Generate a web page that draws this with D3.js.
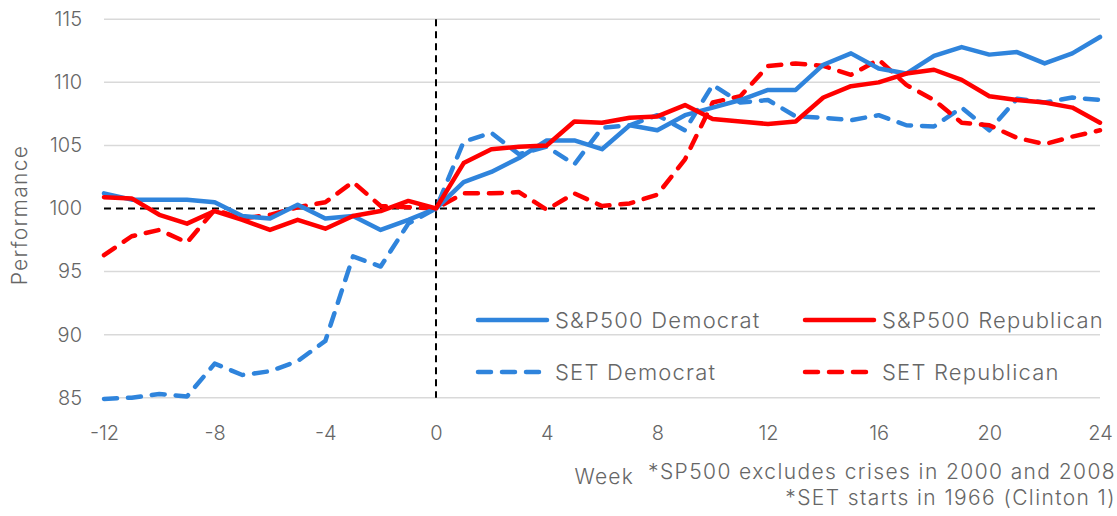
<!DOCTYPE html>
<html>
<head>
<meta charset="utf-8">
<script src="https://cdn.jsdelivr.net/npm/d3@7"></script>
<style>
  body { margin: 0; background: #fff; }
  text { font-family: Inter, "Open Sans", sans-serif; font-weight: 300; fill: #666; }
</style>
</head>
<body>
<script>
let width = 1117
let height = 516
let margin = {top: 19.3, right: 17, bottom: 118.3, left: 104}

let weeks = d3.range(-12, 25)
let yTicks = [85, 90, 95, 100, 105, 110, 115]
let xTicks = [-12, -8, -4, 0, 4, 8, 12, 16, 20, 24]

// values, weeks -12 .. 24
let spDem = [101.2, 100.7, 100.7, 100.7, 100.5, 99.4, 99.2, 100.3, 99.2, 99.4, 98.3, 99.1, 100.0,
  102.1, 102.9, 104.0, 105.4, 105.4, 104.7, 106.6, 106.2, 107.4, 108.0, 108.6, 109.4,
  109.4, 111.4, 112.3, 111.1, 110.7, 112.1, 112.8, 112.2, 112.4, 111.5, 112.3, 113.6]
let spRep = [100.9, 100.8, 99.5, 98.8, 99.8, 99.1, 98.3, 99.1, 98.4, 99.4, 99.8, 100.6, 100.0,
  103.6, 104.7, 104.9, 105.0, 106.9, 106.8, 107.2, 107.3, 108.2, 107.1, 106.9, 106.7,
  106.9, 108.8, 109.7, 110.0, 110.7, 111.0, 110.2, 108.9, 108.6, 108.4, 108.0, 106.8]
let setDem = [84.9, 85.0, 85.3, 85.1, 87.7, 86.8, 87.1, 87.9, 89.5, 96.2, 95.4, 98.8, 100.0,
  105.3, 106.0, 104.3, 104.9, 103.5, 106.4, 106.6, 107.4, 106.2, 109.8, 108.4, 108.6,
  107.3, 107.2, 107.0, 107.4, 106.6, 106.5, 108.0, 106.2, 108.7, 108.4, 108.8, 108.6]
let setRep = [96.3, 97.8, 98.3, 97.3, 99.9, 99.2, 99.5, 100.1, 100.5, 102.1, 100.2, 100.1, 100.0,
  101.2, 101.2, 101.3, 99.9, 101.2, 100.2, 100.4, 101.1, 103.9, 108.4, 108.9, 111.3,
  111.5, 111.3, 110.6, 111.8, 109.8, 108.6, 106.8, 106.6, 105.6, 105.1, 105.7, 106.2]

let seriesNames = ['S&P500 Democrat', 'S&P500 Republican', 'SET Democrat', 'SET Republican']
let seriesValues = [spDem, spRep, setDem, setRep]
let seriesColors = ['#2f84dc', '#ff0000', '#2f84dc', '#ff0000']
let seriesDashed = [false, false, true, true]

let x = d3.scaleLinear().domain([-12, 24]).range([margin.left, width - margin.right])
let y = d3.scaleLinear().domain([85, 115]).range([height - margin.bottom, margin.top])

let svg = d3.select('body').append('svg')
    .attr('width', width)
    .attr('height', height)

// gridlines
svg.append('g')
    .selectAll('line')
    .data(yTicks.filter(d => d != 100))
    .enter().append('line')
    .attr('x1', x(-12))
    .attr('x2', x(24))
    .attr('y1', d => y(d))
    .attr('y2', d => y(d))
    .attr('stroke', '#d9d9d9')
    .attr('stroke-width', 1.5)

// reference lines
svg.append('line')
    .attr('x1', x(-12)).attr('x2', x(24))
    .attr('y1', y(100)).attr('y2', y(100))
    .attr('stroke', '#000').attr('stroke-width', 2)
    .attr('stroke-dasharray', '7,5')

svg.append('line')
    .attr('x1', x(0)).attr('x2', x(0))
    .attr('y1', y(115)).attr('y2', y(85))
    .attr('stroke', '#000').attr('stroke-width', 2)
    .attr('stroke-dasharray', '7,5')

// y axis labels
let yAxis = d3.axisLeft(y).tickValues(yTicks).tickSize(0).tickPadding(22)
svg.append('g')
    .attr('transform', 'translate(' + margin.left + ',0)')
    .call(yAxis)
    .call(g => g.select('.domain').remove())
    .selectAll('text')
    .style('font-size', '20px')
    .attr('fill', '#666')

// x axis labels, plain hyphen for negatives
let xAxis = d3.axisBottom(x).tickValues(xTicks).tickSize(0).tickPadding(28)
    .tickFormat(d => String(d))
svg.append('g')
    .attr('transform', 'translate(0,' + y(85) + ')')
    .call(xAxis)
    .call(g => g.select('.domain').remove())
    .selectAll('text')
    .style('font-size', '20px')
    .attr('fill', '#666')

// lines
let line = d3.line()
    .x((d, i) => x(weeks[i]))
    .y(d => y(d))

let drawOrder = [2, 3, 0, 1]
drawOrder.forEach(i => {
    svg.append('path')
        .datum(seriesValues[i])
        .attr('d', line)
        .attr('fill', 'none')
        .attr('stroke', seriesColors[i])
        .attr('stroke-width', 4.5)
        .attr('stroke-linejoin', 'round')
        .attr('stroke-linecap', 'round')
        .attr('stroke-dasharray', seriesDashed[i] ? '13,11' : null)
})

// legend
let legendPos = [[478, 320], [805, 320], [478, 372], [805, 372]]
seriesNames.forEach((name, i) => {
    let g = svg.append('g').attr('transform', 'translate(' + legendPos[i][0] + ',' + legendPos[i][1] + ')')
    g.append('line')
        .attr('x1', 0).attr('x2', 69)
        .attr('stroke', seriesColors[i])
        .attr('stroke-width', 4.5)
        .attr('stroke-linecap', 'round')
        .attr('stroke-dasharray', seriesDashed[i] ? '13,11' : null)
    g.append('text')
        .attr('x', 77)
        .attr('dy', '0.35em')
        .style('font-size', '22px')
        .style('letter-spacing', '1.2px')
        .text(name)
})

// titles
svg.append('text')
    .attr('transform', 'translate(27,' + 215 + ') rotate(-90)')
    .attr('text-anchor', 'middle')
    .style('font-size', '21px')
    .style('letter-spacing', '1.3px')
    .text('Performance')

svg.append('text')
    .attr('x', 634)
    .attr('y', 484)
    .attr('text-anchor', 'end')
    .style('font-size', '21px')
    .style('letter-spacing', '1.2px')
    .text('Week')

svg.append('text')
    .attr('x', 1116)
    .attr('y', 479)
    .attr('text-anchor', 'end')
    .style('font-size', '21px')
    .style('letter-spacing', '1.4px')
    .text('*SP500 excludes crises in 2000 and 2008')

svg.append('text')
    .attr('x', 1116)
    .attr('y', 505)
    .attr('text-anchor', 'end')
    .style('font-size', '21px')
    .style('letter-spacing', '1.4px')
    .text('*SET starts in 1966 (Clinton 1)')
</script>
</body>
</html>
